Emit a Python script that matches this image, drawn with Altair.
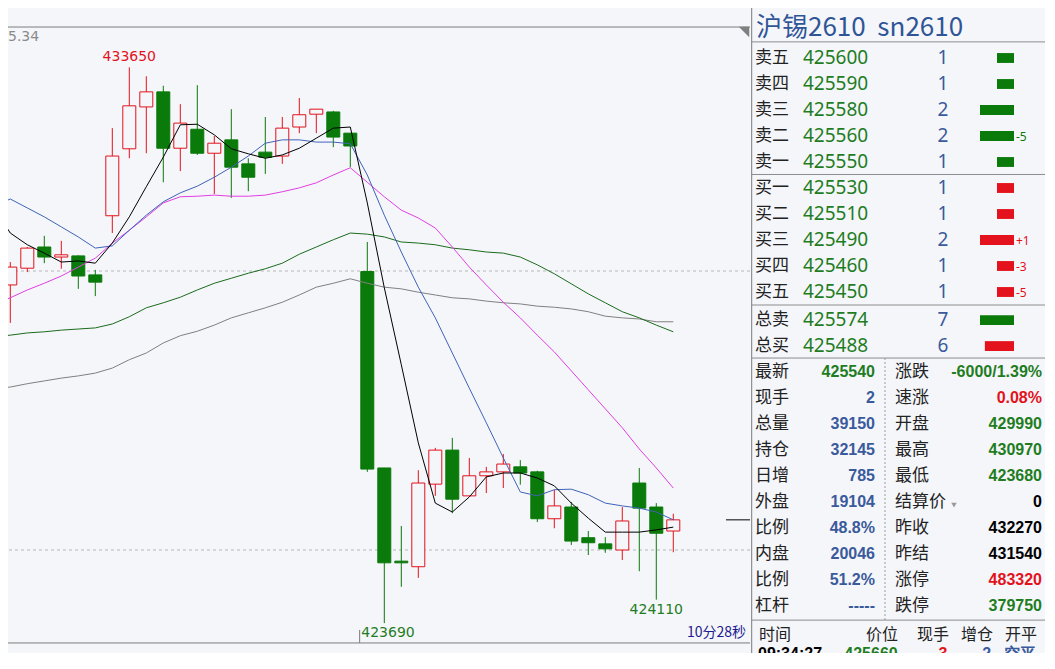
import altair as alt
import numpy as np
import pandas as pd

# ---------------- candle data (index -1 is the bar cut by the left edge) ----------------
bar_index = list(range(-1, 40))
opens = [430970, 429750, 430050, 430430, 430250, 430270, 429930, 430990, 432190, 432940,
         433210, 432200, 432540, 432110, 432350, 431920, 432130, 432060, 432580, 432810,
         432850, 432470, 429990, 426470, 424800, 424700, 426180, 426790, 425970, 426330,
         426400, 426490, 426400, 425560, 425770, 425220, 425110, 425000, 426200, 425770, 425340]
highs = [431090, 430160, 430430, 430630, 430540, 430280, 430020, 432560, 433650, 433490,
         433320, 432990, 433330, 432420, 432900, 432020, 432760, 432760, 433100, 432900,
         432870, 432470, 430520, 426470, 425430, 426430, 426830, 427010, 426650, 426490,
         426720, 426610, 426420, 426080, 425860, 425340, 425230, 425770, 426470, 425840, 425650]
lows = [429660, 429070, 429980, 430140, 430040, 429680, 429550, 430680, 432020, 432110,
        431590, 431790, 432080, 431380, 431310, 431430, 431740, 431920, 432470, 432470,
        432220, 431860, 426400, 423690, 424340, 424500, 425970, 425660, 425970, 426020,
        426110, 426170, 425500, 425390, 425090, 424910, 424950, 424820, 424620, 424110, 424960]
closes = [429790, 430070, 430410, 430250, 430290, 429910, 429800, 432060, 432960, 433210,
          432200, 432650, 432110, 432290, 431860, 431680, 432040, 432560, 432800, 432900,
          432400, 432240, 426450, 424770, 424770, 426200, 426790, 425910, 426330, 426400,
          426540, 426380, 425560, 425790, 425160, 425130, 425020, 425520, 425750, 425300, 425540]

ma5 = [431150, 430680, 430470, 430320, 430160, 430180, 430140, 430500, 430970, 431510,
       432040, 432620, 432630, 432440, 432190, 432100, 432020, 432080, 432200, 432380,
       432560, 432580, 431220, 429700, 428320, 426920, 425840, 425680, 425950, 426310,
       426380, 426380, 426290, 426150, 425840, 425570, 425320, 425320, 425320, 425360, 425410]
ma10 = [431160, 431290, 431130, 430970, 430790, 430610, 430410, 430450, 430730, 431000,
        431240, 431400, 431520, 431680, 431860, 432060, 432290, 432350, 432350, 432310,
        432310, 432280, 431720, 431000, 430340, 429710, 429160, 428530, 427900, 427280,
        426650, 426040, 425970, 426080, 426090, 425990, 425840, 425790, 425750, 425680, 425540]
ma20 = [429390, 429520, 429660, 429780, 429910, 430070, 430230, 430500, 430730, 430970,
        431220, 431330, 431340, 431360, 431340, 431340, 431360, 431420, 431490, 431580,
        431720, 431850, 431590, 431330, 431090, 430950, 430770, 430430, 430070, 429750,
        429440, 429160, 428850, 428550, 428210, 427870, 427530, 427190, 426810, 426470, 426110]
ma40 = [428820, 428850, 428890, 428910, 428940, 428960, 428980, 429050, 429180, 429340,
        429430, 429530, 429660, 429780, 429870, 429960, 430040, 430140, 430300, 430430,
        430560, 430680, 430660, 430610, 430520, 430500, 430470, 430410, 430380, 430340,
        430320, 430250, 430110, 429950, 429770, 429590, 429430, 429270, 429160, 429030, 428910]
ma60 = [427900, 427920, 427980, 428030, 428080, 428120, 428170, 428260, 428410, 428530,
        428710, 428840, 428920, 429030, 429160, 429250, 429340, 429440, 429570, 429710,
        429780, 429860, 429780, 429710, 429680, 429620, 429570, 429520, 429500, 429460,
        429430, 429410, 429370, 429350, 429320, 429270, 429190, 429160, 429140, 429090, 429090]

grid_prices = [430000, 425000]
frame_prices = [434372, 423334]
high_label_bar, high_label_price = 7, 433650
low_label_bars = [22, 38]
low_label_prices = [423690, 424110]
session_break = [20.55]
countdown_text = "10分28秒"
corner_text = "5.34"

# ---------------- right panel data ----------------
title_text = "沪锡2610\u00a0\u00a0sn2610"
book_labels = ["卖五", "卖四", "卖三", "卖二", "卖一", "买一", "买二", "买三", "买四", "买五"]
book_prices = [425600, 425590, 425580, 425560, 425550, 425530, 425510, 425490, 425460, 425450]
book_qty = [1, 1, 2, 2, 1, 1, 1, 2, 1, 1]
book_change = ["", "", "", "-5", "", "", "", "+1", "-3", "-5"]
total_labels = ["总卖", "总买"]
total_prices = [425574, 425488]
total_qty = [7, 6]

stat_left_labels = ["最新", "现手", "总量", "持仓", "日增", "外盘", "比例", "内盘", "比例", "杠杆"]
stat_left_values = ["425540", "2", "39150", "32145", "785", "19104", "48.8%", "20046", "51.2%", "-----"]
stat_right_labels = ["涨跌", "速涨", "开盘", "最高", "最低", "结算价", "昨收", "昨结", "涨停", "跌停"]
stat_right_values = ["-6000/1.39%", "0.08%", "429990", "430970", "423680", "0",
                     "432270", "431540", "483320", "379750"]
trade_header = ["时间", "价位", "现手", "增仓", "开平"]
trade_row = ["09:34:27", "425660", "3", "-2", "空平"]

# ---------------- style ----------------
BG = "#f5f6fa"
RED = "#e3121c"
GREEN = "#0a7a0a"
TGREEN = "#1f7d1f"
TBLUE = "#3a5a9c"
DARK = "#222222"
CJK = "Noto Sans CJK SC"
NUM = "Noto Sans"
BOLD = "Liberation Sans"
LBL = "DejaVu Sans"

H = 645
LW = 742
RW = 295
X_DOM = [-0.1353, 43.512]
Y_DOM = [434713 - H * 17.921, 434713]


def lx(f):
    return alt.X(f, type="quantitative", scale=alt.Scale(domain=X_DOM, nice=False, zero=False), axis=None)


def ly(f):
    return alt.Y(f, type="quantitative", scale=alt.Scale(domain=Y_DOM, nice=False, zero=False), axis=None)


cdf = pd.DataFrame(dict(i=bar_index, o=opens, h=highs, l=lows, c=closes))
up = cdf.c >= cdf.o
cdf["scol"] = np.where(up, RED, GREEN)
cdf["fcol"] = np.where(up, BG, GREEN)
cdf["b0"] = cdf[["o", "c"]].min(axis=1)
cdf["b1"] = cdf[["o", "c"]].max(axis=1)
HALF = 0.382
cdf["x0"] = cdf.i - HALF
cdf["x1"] = cdf.i + HALF

grid = alt.Chart(pd.DataFrame({"p": grid_prices})).mark_rule(
    color="#b8b8bc", strokeDash=[3, 3], strokeWidth=1, clip=True).encode(y=ly("p"))
frame = alt.Chart(pd.DataFrame({"p": frame_prices})).mark_rule(
    color="#7c7c7c", strokeWidth=1, clip=True).encode(y=ly("p"))
corner_tri = alt.Chart(pd.DataFrame({"i": [X_DOM[1]], "p": [frame_prices[0]]})).mark_point(
    shape="M -1 -1 L 1 -1 L 1 1 Z", filled=True, size=110, color="#808080", opacity=1,
    xOffset=-6, yOffset=5, clip=True).encode(x=lx("i"), y=ly("p"))
brk = alt.Chart(pd.DataFrame({"i": session_break, "p": [frame_prices[1]],
                              "p2": [frame_prices[1] + 13 * 17.921]})).mark_rule(
    color="#7c7c7c", strokeWidth=1, clip=True).encode(x=lx("i"), y=ly("p"), y2=alt.Y2("p2"))

wicks = alt.Chart(cdf).mark_rule(strokeWidth=1, clip=True).encode(
    x=lx("i"), y=ly("l"), y2=alt.Y2("h"), color=alt.Color("scol:N", scale=None))
bodies = alt.Chart(cdf).mark_rect(strokeWidth=1, clip=True).encode(
    x=lx("x0"), x2=alt.X2("x1"), y=ly("b0"), y2=alt.Y2("b1"),
    fill=alt.Fill("fcol:N", scale=None), stroke=alt.Stroke("scol:N", scale=None))

ma_layers = []
for vals, col in [(ma60, "#808080"), (ma40, "#1b6b1b"), (ma20, "#e23ee2"),
                  (ma10, "#3f63b8"), (ma5, "#000000")]:
    ma_layers.append(alt.Chart(pd.DataFrame({"i": bar_index, "p": vals})).mark_line(
        color=col, strokeWidth=1, clip=True).encode(x=lx("i"), y=ly("p"), order="i:Q"))

hi_lbl = alt.Chart(pd.DataFrame({"i": [high_label_bar], "p": [high_label_price],
                                 "t": [str(high_label_price)]})).mark_text(
    font=LBL, fontSize=14, color=RED, dy=-10, baseline="middle", clip=True).encode(
    x=lx("i"), y=ly("p"), text="t:N")
lo_lbl1 = alt.Chart(pd.DataFrame({"i": [low_label_bars[0]], "p": [low_label_prices[0]],
                                  "t": [str(low_label_prices[0])]})).mark_text(
    font=LBL, fontSize=14, color=TGREEN, dx=-23, dy=10, align="left", baseline="middle", clip=True).encode(
    x=lx("i"), y=ly("p"), text="t:N")
lo_lbl2 = alt.Chart(pd.DataFrame({"i": [low_label_bars[1]], "p": [low_label_prices[1]],
                                  "t": [str(low_label_prices[1])]})).mark_text(
    font=LBL, fontSize=14, color=TGREEN, dy=10, baseline="middle", clip=True).encode(
    x=lx("i"), y=ly("p"), text="t:N")
cd_lbl = alt.Chart(pd.DataFrame({"i": [X_DOM[1]], "p": [frame_prices[1]], "t": [countdown_text]})).mark_text(
    font=CJK, fontSize=14, color="#1b1b8f", dx=-4, dy=-10, align="right", baseline="middle", clip=True).encode(
    x=lx("i"), y=ly("p"), text="t:N")
corner = alt.Chart(pd.DataFrame({"i": [X_DOM[0]], "p": [frame_prices[0]], "t": [corner_text]})).mark_text(
    font=LBL, fontSize=14, color="#8a8a8a", dx=0, dy=10, align="left", baseline="middle", clip=True).encode(
    x=lx("i"), y=ly("p"), text="t:N")
last_line = alt.Chart(pd.DataFrame({"i": [42.1], "i2": [X_DOM[1]], "p": [closes[-1]]})).mark_rule(
    color="#000000", strokeWidth=1, clip=True).encode(x=lx("i"), x2=alt.X2("i2"), y=ly("p"))

left = alt.layer(grid, frame, corner_tri, brk, wicks, bodies, *ma_layers, last_line,
                 hi_lbl, lo_lbl1, lo_lbl2, cd_lbl, corner).properties(width=LW, height=H)

# ---------------- right panel ----------------
RX_DOM = [750, 750 + RW]
RY_DOM = [-50 / 26, (H - 50) / 26]


def rx(f):
    return alt.X(f, type="quantitative", scale=alt.Scale(domain=RX_DOM, nice=False, zero=False), axis=None)


def ry(f):
    return alt.Y(f, type="quantitative", scale=alt.Scale(domain=RY_DOM, nice=False, zero=False, reverse=True),
                 axis=None)


def txt(df, **kw):
    return alt.Chart(df).mark_text(baseline="middle", clip=True, **kw).encode(
        x=rx("x"), y=ry("r"), text="t:N", color=alt.Color("col:N", scale=None))


SEP_X = 751.7
book_rows = list(range(10)) + [10.08, 11.08]
stat_rows = [12.08 + k for k in range(10)]

sep_h = alt.Chart(pd.DataFrame({"r": [-0.62, 4.48, 9.5, 11.54, 21.62],
                                "x": [SEP_X] * 5, "x2": [RX_DOM[1]] * 5})).mark_rule(
    color="#8c8c8c", strokeWidth=1, clip=True).encode(x=rx("x"), x2=alt.X2("x2"), y=ry("r"))
sep_v = alt.Chart(pd.DataFrame({"x": [SEP_X]})).mark_rule(
    color="#7a7a7a", strokeWidth=1, clip=True).encode(x=rx("x"))
sep_d = alt.Chart(pd.DataFrame({"x": [885], "r": [11.54], "r2": [21.62]})).mark_rule(
    color="#9a9a9a", strokeWidth=1, strokeDash=[2, 2], clip=True).encode(x=rx("x"), y=ry("r"), y2=alt.Y2("r2"))

title = txt(pd.DataFrame({"x": [756], "r": [-1.17], "t": [title_text], "col": ["#2f5597"]}),
            font=CJK, fontSize=26, align="left")

bk_lbl = txt(pd.DataFrame({"x": 755, "r": book_rows, "t": book_labels + total_labels, "col": DARK}),
             font=CJK, fontSize=17, align="left")
bk_price = txt(pd.DataFrame({"x": 803, "r": book_rows, "t": [str(v) for v in book_prices + total_prices],
                             "col": TGREEN}), font=NUM, fontSize=19, align="left")
bk_qty = txt(pd.DataFrame({"x": 943, "r": book_rows, "t": [str(v) for v in book_qty + total_qty],
                           "col": TBLUE}), font=NUM, fontSize=19, align="center")

BAR_END = 1014
bar_len = [q * 17 for q in book_qty] + [q * 34 / max(total_qty) for q in total_qty]
bar_col = [GREEN] * 5 + [RED] * 5 + [GREEN, RED]
bdf = pd.DataFrame({"r0": [r - 0.19 for r in book_rows], "r1": [r + 0.19 for r in book_rows],
                    "x0": [BAR_END - L for L in bar_len], "x1": BAR_END, "col": bar_col})
bk_bar = alt.Chart(bdf).mark_rect(clip=True).encode(
    x=rx("x0"), x2=alt.X2("x1"), y=ry("r0"), y2=alt.Y2("r1"), color=alt.Color("col:N", scale=None))

ch_rows = [r for r, c in zip(range(10), book_change) if c]
ch_text = [c for c in book_change if c]
ch_col = [GREEN if r < 5 else RED for r in ch_rows]
bk_chg = txt(pd.DataFrame({"x": 1016, "r": [r + 0.05 for r in ch_rows], "t": ch_text, "col": ch_col}),
             font=NUM, fontSize=12, align="left")

st_l_lbl = txt(pd.DataFrame({"x": 755, "r": stat_rows, "t": stat_left_labels, "col": DARK}),
               font=CJK, fontSize=17, align="left")
st_l_val = txt(pd.DataFrame({"x": 875, "r": stat_rows, "t": stat_left_values,
                             "col": [TGREEN] + [TBLUE] * 9}),
               font=BOLD, fontSize=16, fontWeight="bold", align="right")
st_r_lbl = txt(pd.DataFrame({"x": 895, "r": stat_rows, "t": stat_right_labels, "col": DARK}),
               font=CJK, fontSize=17, align="left")
st_r_val = txt(pd.DataFrame({"x": 1042, "r": stat_rows, "t": stat_right_values,
                             "col": [TGREEN, RED, TGREEN, TGREEN, TGREEN, "#000000", "#000000", "#000000",
                                     RED, TGREEN]}),
               font=BOLD, fontSize=16, fontWeight="bold", align="right")
tri = alt.Chart(pd.DataFrame({"x": [954], "r": [stat_rows[5] + 0.12]})).mark_point(
    shape="triangle-down", filled=True, size=30, color="#9a9a9a", opacity=1, clip=True).encode(
    x=rx("x"), y=ry("r"))

hdr = txt(pd.DataFrame({"x": [775, 882, 933, 977, 1021], "r": 22.2, "t": trade_header, "col": DARK}),
          font=CJK, fontSize=16, align="center")
trade_cols = ["#000000", TGREEN, RED, TBLUE, TBLUE]
trd = txt(pd.DataFrame({"x": [790, 871, 943, 984, 1020], "r": 22.92, "t": trade_row, "col": trade_cols}),
          font=BOLD, fontSize=16, fontWeight="bold", align="center")

right = alt.layer(sep_h, sep_v, sep_d, title, bk_bar, bk_lbl, bk_price, bk_qty, bk_chg,
                  st_l_lbl, st_l_val, st_r_lbl, st_r_val, tri, hdr, trd).properties(width=RW, height=H)

chart = alt.hconcat(left, right, spacing=0).properties(
    padding=0, background=BG).configure_view(stroke=None)

chart.save("out.html", embed_options={"renderer": "svg", "actions": False})
